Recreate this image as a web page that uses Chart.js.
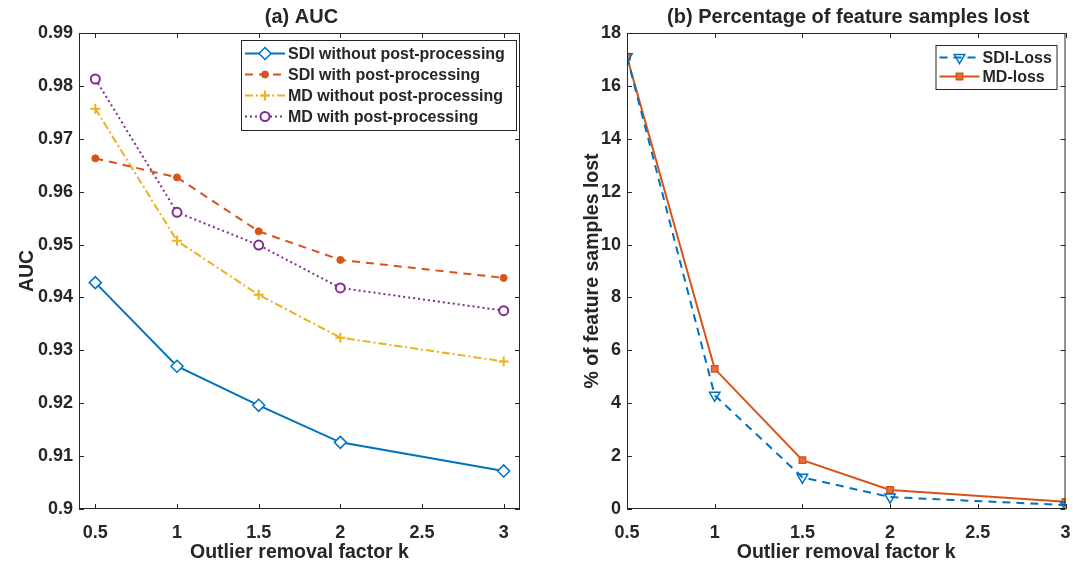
<!DOCTYPE html>
<html>
<head>
<meta charset="utf-8">
<script src="https://cdn.jsdelivr.net/npm/chart.js@4.4.1/dist/chart.umd.min.js"></script>
<style>
  body { margin: 0; background: #fff; }
  #wrap { width: 1073px; height: 566px; position: relative; }
  canvas { position: absolute; top: 0; }
</style>
</head>
<body>
<div id="wrap">
  <canvas id="aucChart" width="536" height="566" style="left:0"></canvas>
  <canvas id="lossChart" width="537" height="566" style="left:536px"></canvas>
</div>
<script>
// data
const kValues = [0.5, 1, 1.5, 2, 3];
const kTicks = [0.5, 1, 1.5, 2, 2.5, 3];
const kTickLabels = ["0.5", "1", "1.5", "2", "2.5", "3"];

const sdiNoPost = [0.9428, 0.9270, 0.9196, 0.9126, 0.9072];
const sdiPost = [0.9663, 0.9627, 0.9525, 0.9471, 0.9437];
const mdNoPost = [0.9757, 0.9507, 0.9405, 0.9324, 0.9279];
const mdPost = [0.9813, 0.9561, 0.9499, 0.9418, 0.9375];

const aucTicks = [0.9, 0.91, 0.92, 0.93, 0.94, 0.95, 0.96, 0.97, 0.98, 0.99];
const aucTickLabels = ["0.9", "0.91", "0.92", "0.93", "0.94", "0.95", "0.96", "0.97", "0.98", "0.99"];

const sdiLoss = [17.1, 4.3, 1.2, 0.45, 0.15];
const mdLoss = [17.1, 5.3, 1.85, 0.72, 0.27];
const lossTicks = [0, 2, 4, 6, 8, 10, 12, 14, 16, 18];
const lossTickLabels = ["0", "2", "4", "6", "8", "10", "12", "14", "16", "18"];

const BLUE = "#0072BD", ORANGE = "#D95319", YELLOW = "#EDB120", PURPLE = "#7E2F8E";
const TXT = "#262626";
const FONT = "'Liberation Sans', Arial, Helvetica, sans-serif";

function pts(xs, ys) {
  return xs.map((x, i) => ({ x: x, y: ys[i] }));
}

// box, inward ticks, titles and legend like the matlab figure
const matlabFrame = {
  id: "matlabFrame",
  afterDraw(chart, args, opts) {
    const c = chart.ctx, a = chart.chartArea;
    const xs = chart.scales.x, ys = chart.scales.y;
    c.save();
    c.strokeStyle = TXT;
    c.lineWidth = 1;
    c.strokeRect(a.left + 0.5, a.top + 0.5, a.right - a.left - 1, a.bottom - a.top - 1);
    c.beginPath();
    opts.xTicks.forEach((v) => {
      const px = Math.round(xs.getPixelForValue(v)) + 0.5;
      c.moveTo(px, a.bottom); c.lineTo(px, a.bottom - 5);
      c.moveTo(px, a.top); c.lineTo(px, a.top + 5);
    });
    opts.yTicks.forEach((v) => {
      const py = Math.round(ys.getPixelForValue(v)) + 0.5;
      c.moveTo(a.left, py); c.lineTo(a.left + 5, py);
      c.moveTo(a.right, py); c.lineTo(a.right - 5, py);
    });
    c.stroke();

    // titles
    c.fillStyle = TXT;
    c.textAlign = "center";
    c.textBaseline = "middle";
    c.font = "bold 20px " + FONT;
    c.fillText(opts.title, (a.left + a.right) / 2 + 2, 17);
    c.font = "bold 19.5px " + FONT;
    c.fillText(opts.xTitle, (a.left + a.right) / 2, 553);
    c.save();
    c.translate(opts.yTitleX, (a.top + a.bottom) / 2);
    c.rotate(-Math.PI / 2);
    c.fillText(opts.yTitle, 0, 0);
    c.restore();

    // legend box inside the axes
    const L = opts.legend;
    const n = chart.data.datasets.length;
    const bx = a.right - L.right - L.width, by = a.top + L.top;
    c.fillStyle = "#fff";
    c.fillRect(bx, by, L.width, L.rowH * n + 6);
    c.strokeStyle = TXT;
    c.lineWidth = 1;
    c.strokeRect(bx + 0.5, by + 0.5, L.width, L.rowH * n + 6);
    c.font = "bold 16px " + FONT;
    c.textAlign = "left";
    chart.data.datasets.forEach((ds, i) => {
      const y = by + 3 + L.rowH * (i + 0.5);
      const x0 = bx + 4, x1 = bx + 4 + L.lineLen;
      c.strokeStyle = ds.borderColor;
      c.lineWidth = ds.borderWidth;
      c.setLineDash(ds.borderDash || []);
      c.beginPath(); c.moveTo(x0, y); c.lineTo(x1, y); c.stroke();
      c.setLineDash([]);
      c.fillStyle = ds.pointBackgroundColor;
      c.strokeStyle = ds.pointBorderColor;
      c.lineWidth = ds.pointBorderWidth;
      Chart.helpers.drawPoint(c, {
        pointStyle: ds.pointStyle, radius: ds.pointRadius, rotation: ds.pointRotation || 0,
        borderWidth: ds.pointBorderWidth
      }, (x0 + x1) / 2, y);
      c.fillStyle = TXT;
      c.fillText(ds.label, x1 + 3, y + 1);
    });
    c.restore();
  }
};

function baseOptions(xMin, xMax, yMin, yMax, yTicks, yLabels, yWidth, padRight, frame) {
  return {
    responsive: false,
    animation: false,
    layout: { padding: { left: 0, right: padRight, top: 33, bottom: 0 } },
    plugins: { legend: { display: false }, tooltip: { enabled: false }, matlabFrame: frame },
    scales: {
      x: {
        type: "linear", min: xMin, max: xMax,
        grid: { display: false, drawTicks: false }, border: { display: false },
        afterBuildTicks: (s) => { s.ticks = kTicks.map((v) => ({ value: v })); },
        afterFit: (s) => { s.height = 57; s.paddingLeft = 0; s.paddingRight = 0; },
        ticks: {
          color: TXT, padding: 13, maxRotation: 0,
          font: { family: FONT, size: 18, weight: "bold" },
          callback: (v, i) => kTickLabels[i]
        }
      },
      y: {
        type: "linear", min: yMin, max: yMax,
        grid: { display: false, drawTicks: false }, border: { display: false },
        afterBuildTicks: (s) => { s.ticks = yTicks.map((v) => ({ value: v })); },
        afterFit: (s) => { s.width = yWidth; s.paddingTop = 0; s.paddingBottom = 0; },
        ticks: {
          color: TXT, padding: 6,
          font: { family: FONT, size: 18, weight: "bold" },
          callback: (v, i) => yLabels[i]
        }
      }
    }
  };
}

new Chart(document.getElementById("aucChart"), {
  type: "line",
  data: {
    datasets: [
      { label: "SDI without post-processing", data: pts(kValues, sdiNoPost), borderColor: BLUE,
        borderWidth: 2, pointStyle: "rectRot", pointRadius: 6, pointBorderWidth: 1.5,
        pointBackgroundColor: "#fff", pointBorderColor: BLUE },
      { label: "SDI with post-processing", data: pts(kValues, sdiPost), borderColor: ORANGE,
        borderWidth: 2, borderDash: [8, 6], pointStyle: "circle", pointRadius: 3.5, pointBorderWidth: 1,
        pointBackgroundColor: ORANGE, pointBorderColor: ORANGE },
      { label: "MD without post-processing", data: pts(kValues, mdNoPost), borderColor: YELLOW,
        borderWidth: 2, borderDash: [8, 3, 2, 3], pointStyle: "cross", pointRadius: 5, pointBorderWidth: 2,
        pointBackgroundColor: YELLOW, pointBorderColor: YELLOW },
      { label: "MD with post-processing", data: pts(kValues, mdPost), borderColor: PURPLE,
        borderWidth: 2, borderDash: [2, 3], pointStyle: "circle", pointRadius: 4.5, pointBorderWidth: 2,
        pointBackgroundColor: "#fff", pointBorderColor: PURPLE }
    ]
  },
  options: baseOptions(0.4, 3.1, 0.9, 0.99, aucTicks, aucTickLabels, 79, 16, {
    xTicks: kTicks, yTicks: aucTicks, title: "(a) AUC", xTitle: "Outlier removal factor k",
    yTitle: "AUC", yTitleX: 28,
    legend: { right: 4, top: 7, width: 275, rowH: 21, lineLen: 40 }
  }),
  plugins: [matlabFrame]
});

new Chart(document.getElementById("lossChart"), {
  type: "line",
  data: {
    datasets: [
      { label: "SDI-Loss", data: pts(kValues, sdiLoss), borderColor: BLUE,
        borderWidth: 2, borderDash: [8, 6], pointStyle: "triangle", pointRotation: 180,
        pointRadius: 6, pointBorderWidth: 1.5, pointBackgroundColor: "rgba(0,0,0,0)", pointBorderColor: BLUE },
      { label: "MD-loss", data: pts(kValues, mdLoss), borderColor: ORANGE,
        borderWidth: 2, pointStyle: "rect", pointRadius: 4.5, pointBorderWidth: 1.5,
        pointBackgroundColor: "#E8703A", pointBorderColor: ORANGE }
    ]
  },
  options: baseOptions(0.5, 3, 0, 18, lossTicks, lossTickLabels, 91, 2, {
    xTicks: kTicks, yTicks: lossTicks, title: "(b) Percentage of feature samples lost",
    xTitle: "Outlier removal factor k", yTitle: "% of feature samples lost", yTitleX: 57,
    legend: { right: 9, top: 12, width: 121, rowH: 19, lineLen: 40 }
  }),
  plugins: [matlabFrame]
});
</script>
</body>
</html>
